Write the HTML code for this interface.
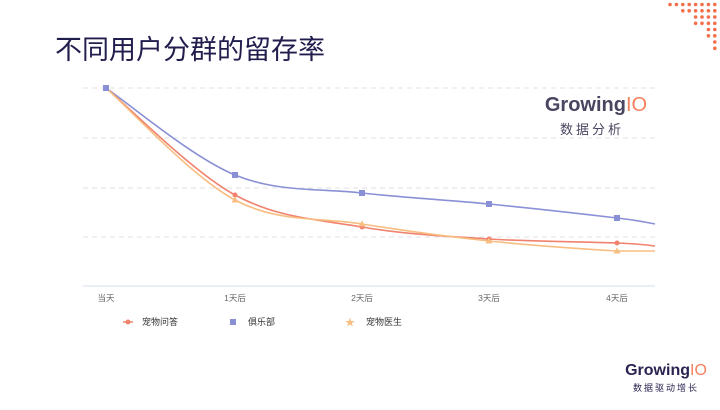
<!DOCTYPE html><html><head><meta charset="utf-8"><style>body{margin:0;width:720px;height:405px;background:#fff;overflow:hidden;font-family:"Liberation Sans","Noto Sans CJK SC",sans-serif}</style></head><body>
<svg width="720" height="405" viewBox="0 0 720 405" xmlns="http://www.w3.org/2000/svg" font-family="Liberation Sans, Noto Sans CJK SC, sans-serif">
<text x="55" y="59" font-size="27" fill="#211d4d">不同用户分群的留存率</text>
<g fill="#f46e4a">
<circle cx="670" cy="4.5" r="1.8"/><circle cx="676.4" cy="4.5" r="1.8"/><circle cx="682.8" cy="4.5" r="1.8"/><circle cx="689.2" cy="4.5" r="1.8"/><circle cx="695.6" cy="4.5" r="1.8"/><circle cx="702" cy="4.5" r="1.8"/><circle cx="708.4" cy="4.5" r="1.8"/><circle cx="714.8" cy="4.5" r="1.8"/>
<circle cx="682.8" cy="10.8" r="1.8"/><circle cx="689.2" cy="10.8" r="1.8"/><circle cx="695.6" cy="10.8" r="1.8"/><circle cx="702" cy="10.8" r="1.8"/><circle cx="708.4" cy="10.8" r="1.8"/><circle cx="714.8" cy="10.8" r="1.8"/>
<circle cx="695.6" cy="17" r="1.8"/><circle cx="702" cy="17" r="1.8"/><circle cx="708.4" cy="17" r="1.8"/><circle cx="714.8" cy="17" r="1.8"/>
<circle cx="695.6" cy="23.3" r="1.8"/><circle cx="702" cy="23.3" r="1.8"/><circle cx="708.4" cy="23.3" r="1.8"/><circle cx="714.8" cy="23.3" r="1.8"/>
<circle cx="708.4" cy="29.5" r="1.8"/><circle cx="714.8" cy="29.5" r="1.8"/>
<circle cx="708.4" cy="35.8" r="1.8"/><circle cx="714.8" cy="35.8" r="1.8"/>
<circle cx="714.8" cy="42" r="1.8"/><circle cx="714.8" cy="48.3" r="1.8"/>
</g>
<g stroke="#e2e2e2" stroke-dasharray="5,4" stroke-width="1">
<line x1="83" y1="88" x2="655" y2="88"/><line x1="83" y1="138" x2="655" y2="138"/><line x1="83" y1="188" x2="655" y2="188"/><line x1="83" y1="237" x2="655" y2="237"/>
</g>
<line x1="83" y1="286" x2="655" y2="286" stroke="#d5dcef" stroke-width="1"/>
<text x="596" y="111" font-size="20" font-weight="bold" fill="#4a4560" text-anchor="middle">Growing<tspan fill="#f4815e" font-weight="normal">IO</tspan></text>
<text x="592" y="134" font-size="13" fill="#4a4560" text-anchor="middle" letter-spacing="3">数据分析</text>
<g font-size="8.5" fill="#666" text-anchor="middle">
<text x="106" y="301">当天</text><text x="235" y="301">1天后</text><text x="362" y="301">2天后</text><text x="489" y="301">3天后</text><text x="617" y="301">4天后</text>
</g>
<g fill="none" stroke-width="1.6">
<path stroke="#8a90d6" d="M106,88 C127.5,102.5 192.3,157.5 235,175 C277.7,192.5 319.7,188.2 362,193 C404.3,197.8 446.5,199.8 489,204 C531.5,208.2 589.3,214.7 617,218 C644.7,221.3 649,223 655,224"/>
<path stroke="#f0826e" d="M106,88 C127.5,105.8 192.3,171.8 235,195 C277.7,218.2 319.7,219.7 362,227 C404.3,234.3 446.5,236.3 489,239 C531.5,241.7 589.3,241.8 617,243 C644.7,244.2 650,245.5 655,246"/>
<path stroke="#f8bd80" d="M106,88 C127.5,106.7 192.3,177.3 235,200 C277.7,222.7 319.7,217.2 362,224 C404.3,230.8 446.5,236.5 489,241 C531.5,245.5 589.3,249.3 617,251 L655,251"/>
</g>
<g fill="#8a90d6"><rect x="103" y="85" width="6" height="6"/><rect x="232" y="172" width="6" height="6"/><rect x="359" y="190" width="6" height="6"/><rect x="486" y="201" width="6" height="6"/><rect x="614" y="215" width="6" height="6"/></g>
<g fill="#f0826e"><circle cx="235" cy="195" r="2.5"/><circle cx="362" cy="227" r="2.5"/><circle cx="489" cy="239" r="2.5"/><circle cx="617" cy="243" r="2.5"/></g>
<g fill="#f8bd80"><path d="M235,196.5 l3.5,6 h-7z"/><path d="M362,220.5 l3.5,6 h-7z"/><path d="M489,237.5 l3.5,6 h-7z"/><path d="M617,247.5 l3.5,6 h-7z"/></g>
<g font-size="9" fill="#333">
<line x1="123" y1="322" x2="133" y2="322" stroke="#f0826e" stroke-width="1.5"/><circle cx="128" cy="322" r="2.5" fill="#f0826e"/><text x="142" y="325">宠物问答</text>
<rect x="230" y="319" width="6" height="6" fill="#8a90d6"/><text x="248" y="325">俱乐部</text>
<text x="350" y="326" font-size="10" fill="#f8bd80" text-anchor="middle">★</text><text x="366" y="325">宠物医生</text>
</g>
<text x="666" y="375" font-size="16" font-weight="bold" fill="#2a2450" text-anchor="middle">Growing<tspan fill="#f4815e" font-weight="normal">IO</tspan></text>
<text x="666" y="391" font-size="9" fill="#2a2450" text-anchor="middle" letter-spacing="2">数据驱动增长</text>
</svg></body></html>
